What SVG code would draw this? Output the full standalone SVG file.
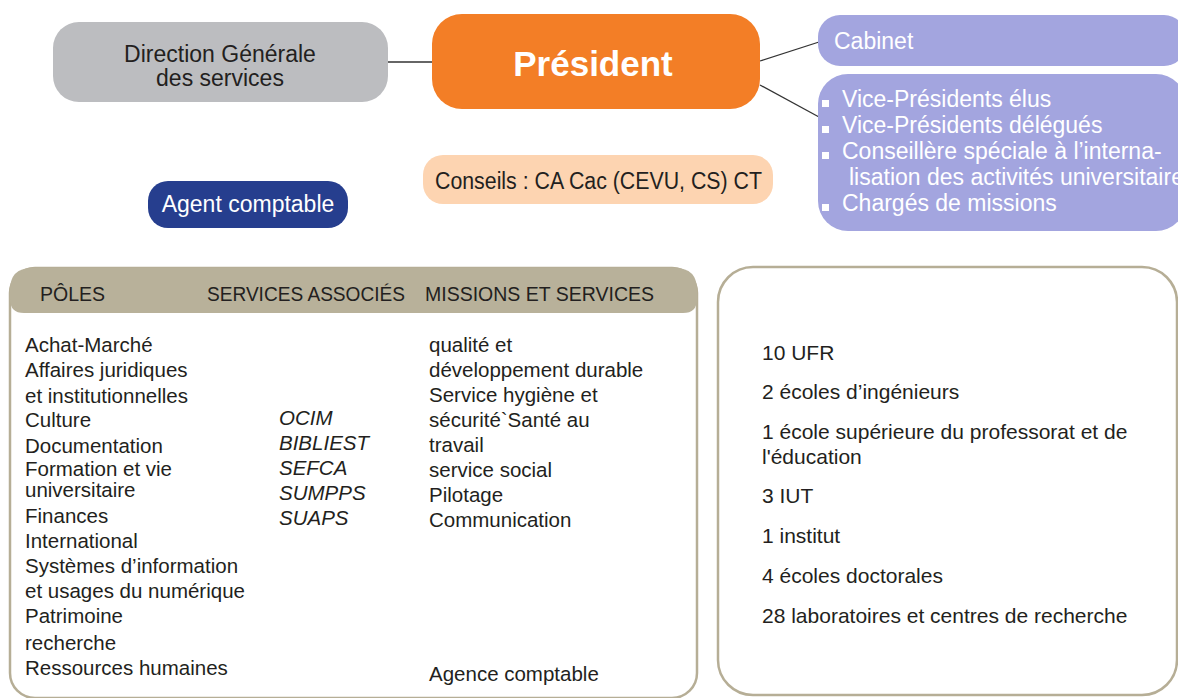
<svg xmlns="http://www.w3.org/2000/svg" width="1178" height="698" viewBox="0 0 1178 698">
<style>
text{font-family:"Liberation Sans",Arial,sans-serif;fill:#231F20}
.w{fill:#fff}
.n{font-size:23px}
.b{font-size:20.5px}
.h{font-size:19.5px}
.i{font-size:20.5px;font-style:italic}
.r{font-size:21px}
.frame{fill:#fff;stroke:#B6AE96;stroke-width:2.5}
.conn{stroke:#333;stroke-width:1.3;fill:none}
</style>
<rect width="1178" height="698" fill="#fff"/>
<g id="connectors">
<line class="conn" x1="388" y1="62" x2="433" y2="62"/>
<line class="conn" x1="760" y1="61" x2="819" y2="42"/>
<line class="conn" x1="760" y1="85" x2="819" y2="117"/>
</g>
<g id="dgs">
<rect x="53" y="22" width="335" height="80" rx="26" fill="#BCBDC0"/>
<text class="n" x="220" y="62" text-anchor="middle">Direction Générale</text>
<text class="n" x="220" y="86" text-anchor="middle">des services</text>
</g>
<g id="president">
<rect x="432" y="14" width="328" height="95" rx="30" fill="#F37E26"/>
<text class="w" x="593" y="76" text-anchor="middle" font-size="35" font-weight="bold">Président</text>
</g>
<g id="cabinet">
<rect x="818" y="15" width="368" height="51" rx="22" fill="#A3A5DF"/>
<text class="w n" x="834" y="49">Cabinet</text>
</g>
<g id="vice-presidents">
<rect x="818" y="74" width="368" height="157" rx="30" fill="#A3A5DF"/>
<g fill="#fff">
<rect x="822" y="100" width="7" height="7"/>
<rect x="822" y="126" width="7" height="7"/>
<rect x="822" y="152" width="7" height="7"/>
<rect x="822" y="204" width="7" height="7"/>
</g>
<text class="w n" x="842" y="107">Vice-Présidents élus</text>
<text class="w n" x="842" y="133">Vice-Présidents délégués</text>
<text class="w n" x="842" y="159">Conseillère spéciale à l’interna-</text>
<text class="w n" x="849" y="185">lisation des activités universitaires</text>
<text class="w n" x="842" y="211">Chargés de missions</text>
</g>
<g id="agent-comptable">
<rect x="148" y="181" width="200" height="47" rx="20" fill="#263E8E"/>
<text class="w n" x="248" y="212" text-anchor="middle">Agent comptable</text>
</g>
<g id="conseils">
<rect x="423" y="155" width="350" height="49" rx="20" fill="#FDD4B1"/>
<text class="n" x="435" y="189" textLength="327" lengthAdjust="spacingAndGlyphs">Conseils : CA Cac (CEVU, CS) CT</text>
</g>
<g id="poles">
<rect class="frame" x="10" y="268" width="687" height="430" rx="25"/>
<path d="M10,290 Q10,268 32,268 H675 Q697,268 697,290 V299 Q697,313 683,313 H24 Q10,313 10,299 Z" fill="#B8B19A"/>
<text class="h" x="40" y="301">PÔLES</text>
<text class="h" x="207" y="301" textLength="198" lengthAdjust="spacingAndGlyphs">SERVICES ASSOCIÉS</text>
<text class="h" x="425" y="301">MISSIONS ET SERVICES</text>
<text class="b" x="25" y="352">Achat-Marché</text>
<text class="b" x="25" y="377">Affaires juridiques</text>
<text class="b" x="25" y="403">et institutionnelles</text>
<text class="b" x="25" y="427">Culture</text>
<text class="b" x="25" y="453">Documentation</text>
<text class="b" x="25" y="476">Formation et vie</text>
<text class="b" x="25" y="497">universitaire</text>
<text class="b" x="25" y="523">Finances</text>
<text class="b" x="25" y="548">International</text>
<text class="b" x="25" y="573">Systèmes d’information</text>
<text class="b" x="25" y="598">et usages du numérique</text>
<text class="b" x="25" y="623">Patrimoine</text>
<text class="b" x="25" y="650">recherche</text>
<text class="b" x="25" y="675">Ressources humaines</text>
<text class="i" x="279" y="425">OCIM</text>
<text class="i" x="279" y="450">BIBLIEST</text>
<text class="i" x="279" y="475">SEFCA</text>
<text class="i" x="279" y="500">SUMPPS</text>
<text class="i" x="279" y="525">SUAPS</text>
<text class="b" x="429" y="352">qualité et</text>
<text class="b" x="429" y="377">développement durable</text>
<text class="b" x="429" y="402">Service hygiène et</text>
<text class="b" x="429" y="427">sécurité`Santé au</text>
<text class="b" x="429" y="452">travail</text>
<text class="b" x="429" y="477">service social</text>
<text class="b" x="429" y="502">Pilotage</text>
<text class="b" x="429" y="527">Communication</text>
<text class="b" x="429" y="681">Agence comptable</text>
</g>
<g id="composantes">
<rect class="frame" x="718" y="267" width="459" height="428" rx="35"/>
<text class="r" x="762" y="360">10 UFR</text>
<text class="r" x="762" y="399">2 écoles d’ingénieurs</text>
<text class="r" x="762" y="439">1 école supérieure du professorat et de</text>
<text class="r" x="762" y="464">l'éducation</text>
<text class="r" x="762" y="503">3 IUT</text>
<text class="r" x="762" y="543">1 institut</text>
<text class="r" x="762" y="583">4 écoles doctorales</text>
<text class="r" x="762" y="623">28 laboratoires et centres de recherche</text>
</g>
</svg>
